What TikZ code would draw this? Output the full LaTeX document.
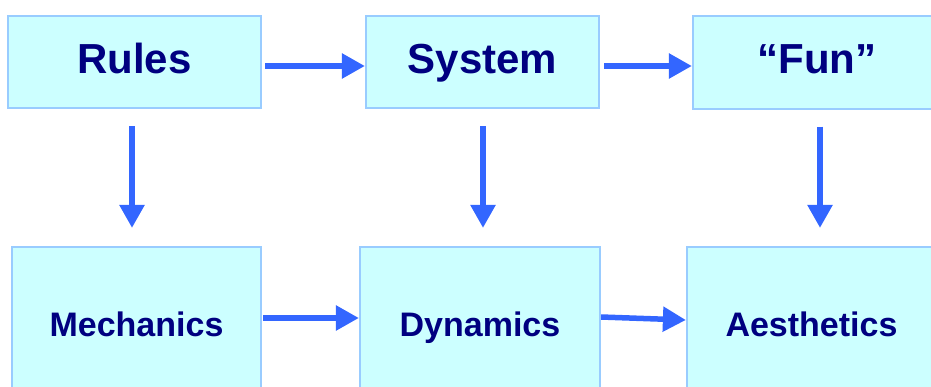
\documentclass[tikz,border=0pt]{standalone}
\usepackage{fontspec}
\setmainfont{Liberation Sans}
\usetikzlibrary{arrows.meta}
\definecolor{boxfill}{HTML}{CCFFFF}
\definecolor{boxline}{HTML}{99CCFF}
\definecolor{arrowblue}{HTML}{3366FF}
\definecolor{labelnavy}{HTML}{000080}
\tikzset{
  stage/.style={draw=boxline, line width=2.2pt, fill=boxfill, inner sep=0pt, rectangle},
  toptext/.style={font=\bfseries\fontsize{42}{42}\selectfont, text=labelnavy, anchor=base, inner sep=0pt},
  bottext/.style={font=\bfseries\fontsize{34}{34}\selectfont, text=labelnavy, anchor=base, inner sep=0pt},
  flow/.style={draw=arrowblue, line width=5.5pt,
    -{Triangle[width=24pt,length=23pt]}, arrowblue}
}
\begin{document}
\begin{tikzpicture}[x=1pt,y=1pt]
\useasboundingbox (0,0) rectangle (931,386);
\clip (0,0) rectangle (931,386);

% upper row
\node[stage, minimum width=253pt, minimum height=92pt] (rules)  at (134.5,324) {};
\node[stage, minimum width=233pt, minimum height=92pt] (system) at (482.5,324) {};
\node[stage, minimum width=248pt, minimum height=93pt] (fun)    at (817,323.5) {};
% lower row
\node[stage, minimum width=249pt, minimum height=152pt] (mech)  at (136.5,63) {};
\node[stage, minimum width=240pt, minimum height=152pt] (dyn)   at (480,63) {};
\node[stage, minimum width=249pt, minimum height=152pt] (aes)   at (811.5,63) {};

% labels
\node[toptext] (rulesT)  at ([yshift=-12pt]rules.center)  {Rules};
\node[toptext] (systemT) at ([yshift=-12pt]system.center) {System};
\node[toptext] (funT)    at ([yshift=-11.5pt]fun.center)  {“Fun”};
\node[bottext] (mechT)   at ([yshift=-13pt]mech.center)   {Mechanics};
\node[bottext] (dynT)    at ([yshift=-13pt]dyn.center)    {Dynamics};
\node[bottext] (aesT)    at ([yshift=-13pt]aes.center)    {Aesthetics};

% horizontal flow
\draw[flow, shorten <=3pt] ([yshift=-4pt]rules.east) -- ([yshift=-4pt]rules.east -| system.west);
\draw[flow, shorten <=4pt] ([yshift=-4pt]system.east) -- ([yshift=-4pt]system.east -| fun.west);
\draw[flow, shorten <=1pt] ([yshift=5pt]mech.east) -- ([yshift=5pt]mech.east -| dyn.west);
\draw[flow] ([yshift=6pt]dyn.east) -- ([yshift=3pt]aes.west);

% vertical flow
\draw[flow, shorten <=17pt, shorten >=18pt] ([xshift=-2.5pt]rules.south) -- ([xshift=-2.5pt]rules.south |- mech.north);
\draw[flow, shorten <=17pt, shorten >=18pt] ([xshift=0.5pt]system.south) -- ([xshift=0.5pt]system.south |- dyn.north);
\draw[flow, shorten <=16.5pt, shorten >=18pt] ([xshift=3pt]fun.south) -- ([xshift=3pt]fun.south |- aes.north);
\end{tikzpicture}
\end{document}
